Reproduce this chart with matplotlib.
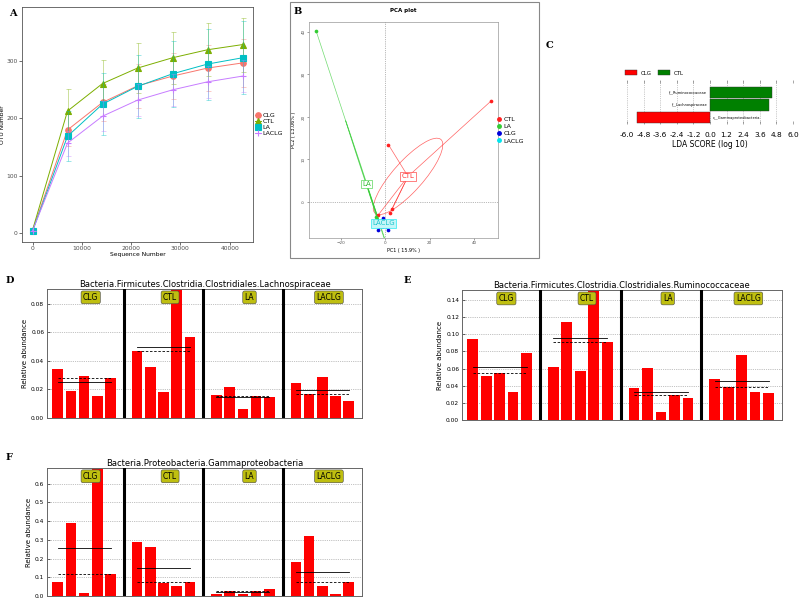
import numpy as np
import matplotlib
matplotlib.use('Agg')
import matplotlib.pyplot as plt
from matplotlib.patches import Ellipse, Rectangle, Patch
from matplotlib.lines import Line2D

W, H = 800, 600

# ---- A: rarefaction curves
seq_depth = [0, 7100, 14200, 21300, 28400, 35500, 42600]
otu_groups = ['CLG', 'CTL', 'LA', 'LACLG']
otu_clg = [4, 180, 228, 257, 274, 288, 297]
otu_ctl = [5, 213, 261, 288, 306, 320, 329]
otu_la = [3, 169, 225, 256, 278, 295, 306]
otu_laclg = [4, 157, 204, 232, 250, 264, 274]
sd_clg = [0, 28, 32, 38, 40, 40, 42]
sd_ctl = [0, 38, 41, 44, 45, 46, 47]
sd_la = [0, 44, 54, 55, 58, 62, 64]
sd_laclg = [0, 22, 26, 28, 28, 28, 28]

# ---- B: PCA scores
pca_groups = ['CTL', 'LA', 'CLG', 'LACLG']
ctl_pc1 = [47.8, 1.5, 3.0, 2.4, -3.0]
ctl_pc2 = [23.8, 13.5, -1.7, -2.5, -3.0]
la_pc1 = [-31.0, -3.9, -2.5, -2.3, -2.0]
la_pc2 = [40.2, -3.5, -5.0, -5.2, -5.4]
clg_pc1 = [-0.9, -3.0, 1.35, -1.5, 0.2]
clg_pc2 = [-3.75, -6.5, -6.6, -5.0, -4.5]
laclg_pc1 = [-2.0, -1.0, 0.0, -1.5, 0.5]
laclg_pc2 = [-4.5, -5.5, -5.0, -5.2, -4.6]

# ---- C: LDA scores
lda_taxa = ['c__Gammaproteobacteria', 'f__Lachnospiraceae', 'f__Ruminococcaceae']
lda_scores = [-5.25, 4.25, 4.5]
lda_class = ['CLG', 'CTL', 'CTL']
lda_ticks = [-6.0, -4.8, -3.6, -2.4, -1.2, 0.0, 1.2, 2.4, 3.6, 4.8, 6.0]

# ---- D/E/F: relative abundance per sample
groups = ['CLG', 'CTL', 'LA', 'LACLG']
lach_clg = [0.0340, 0.0188, 0.0296, 0.0157, 0.0277]
lach_ctl = [0.0469, 0.0359, 0.0181, 0.0903, 0.0565]
lach_la = [0.0164, 0.0220, 0.0066, 0.0152, 0.0150]
lach_laclg = [0.0242, 0.0169, 0.0284, 0.0157, 0.0122]

rumi_clg = [0.0941, 0.0517, 0.0552, 0.0331, 0.0778]
rumi_ctl = [0.0619, 0.1144, 0.0572, 0.1517, 0.0910]
rumi_la = [0.0377, 0.0611, 0.0089, 0.0292, 0.0257]
rumi_laclg = [0.0482, 0.0389, 0.0755, 0.0327, 0.0319]

gamma_clg = [0.077, 0.389, 0.014, 0.684, 0.116]
gamma_ctl = [0.288, 0.261, 0.071, 0.052, 0.073]
gamma_la = [0.009, 0.025, 0.009, 0.025, 0.039]
gamma_laclg = [0.184, 0.322, 0.054, 0.011, 0.073]


def px_axes(fig, left, top, right, bottom):
    return fig.add_axes([left / W, 1 - bottom / H, (right - left) / W, (bottom - top) / H])


def letter(fig, x, y, s):
    fig.text(x / W, 1 - y / H, s, family='DejaVu Serif', weight='bold',
             fontsize=7, ha='left', va='center')


fig = plt.figure(figsize=(8, 6), dpi=100)

# ================= A
axA = px_axes(fig, 22, 7, 253, 242)
otu_vals = [otu_clg, otu_ctl, otu_la, otu_laclg]
otu_sd = [sd_clg, sd_ctl, sd_la, sd_laclg]
otu_colors = ['#F8766D', '#7CAE00', '#00BFC4', '#C77CFF']
otu_markers = ['o', '^', 's', '+']
for name, vals, sd, col, mk in zip(otu_groups, otu_vals, otu_sd, otu_colors, otu_markers):
    axA.errorbar(seq_depth, vals, yerr=sd, fmt='none', ecolor=col, alpha=0.45,
                 elinewidth=0.6, capsize=1.8, capthick=0.6)
    axA.plot(seq_depth, vals, color=col, lw=0.7, marker=mk, ms=4, mew=0.8, label=name)
axA.margins(x=0.05, y=0.05)
axA.set_xticks([0, 10000, 20000, 30000, 40000])
axA.set_yticks([0, 100, 200, 300])
axA.tick_params(labelsize=4.3, length=2, width=0.5, pad=1.2, colors='#333333', labelcolor='#4d4d4d')
for sp in axA.spines.values():
    sp.set_color('#555555')
    sp.set_linewidth(0.6)
axA.set_xlabel('Sequence Number', fontsize=4.3, labelpad=0.5)
axA.set_ylabel('OTU Number', fontsize=4.3, labelpad=0.5)
axA.legend(loc='center left', bbox_to_anchor=(255 / W, 1 - 124 / H), bbox_transform=fig.transFigure,
           frameon=False, fontsize=4.5, handlelength=0.9, handletextpad=0.3,
           labelspacing=0.1, borderpad=0, borderaxespad=0)
letter(fig, 9, 13, 'A')

# ================= B
fig.patches.append(Rectangle((290 / W, 1 - 258 / H), (539 - 290) / W, (258 - 2) / H,
                             transform=fig.transFigure, fill=False, ec='#888888', lw=0.8))
axB = px_axes(fig, 309, 22, 498, 238)
axB.set_xlim(-34.2, 50.8)
axB.set_ylim(-8.45, 42.3)
axB.axhline(0, color='#777777', lw=0.5, ls=':')
axB.axvline(0, color='#777777', lw=0.5, ls=':')
pca_x = [ctl_pc1, la_pc1, clg_pc1, laclg_pc1]
pca_y = [ctl_pc2, la_pc2, clg_pc2, laclg_pc2]
pca_colors = ['#ff2020', '#33cc33', '#0000dd', '#00e5ee']
label_face = ['white', 'white', None, '#c4f6f8']
label_text = ['#ff3030', '#33bb33', None, '#1fc4cc']
ell_k = 0.83
for name, xs, ys, col, fc, tc in zip(pca_groups, pca_x, pca_y, pca_colors, label_face, label_text):
    xs = np.array(xs)
    ys = np.array(ys)
    cx, cy = xs.mean(), ys.mean()
    for px, py in zip(xs, ys):
        axB.plot([cx, px], [cy, py], color=col, lw=0.5, alpha=0.7)
    cov = np.cov(np.vstack([xs, ys]), bias=True)
    evals, evecs = np.linalg.eigh(cov)
    evals = np.clip(evals, 1e-3, None)
    ang = np.degrees(np.arctan2(evecs[1, 1], evecs[0, 1]))
    axB.add_patch(Ellipse((cx, cy), 2 * ell_k * np.sqrt(evals[1]), 2 * ell_k * np.sqrt(evals[0]),
                          angle=ang, fill=False, ec=col, lw=0.5, alpha=0.7))
    axB.scatter(xs, ys, s=7, color=col, zorder=3, lw=0)
    # the CLG label sits under the LACLG one in the original, so it is not drawn
    if fc is not None:
        axB.text(cx, cy, name, fontsize=5, color=tc, ha='center', va='center', zorder=4,
                 bbox=dict(boxstyle='square,pad=0.2', fc=fc, ec=col, lw=0.4))
axB.set_xticks([-20, 0, 20, 40])
axB.set_yticks([0, 10, 20, 30, 40])
axB.tick_params(labelsize=3, length=1.5, width=0.4, pad=1, colors='#555555')
for lab in axB.get_yticklabels():
    lab.set_rotation(90)
    lab.set_va('center')
for sp in axB.spines.values():
    sp.set_color('#999999')
    sp.set_linewidth(0.5)
axB.set_xlabel('PC1 ( 15.9% )', fontsize=3.5, labelpad=2)
axB.set_ylabel('PC2 ( 13.06% )', fontsize=3.5, labelpad=4)
axB.set_title('PCA plot', fontsize=4, weight='bold', pad=7)
axB.legend(handles=[Line2D([], [], ls='none', marker='o', ms=2.5, color=c, label=n)
                    for n, c in zip(pca_groups, pca_colors)],
           loc='center left', bbox_to_anchor=(497 / W, 1 - 130 / H), bbox_transform=fig.transFigure,
           frameon=False, fontsize=4.5, handlelength=0.6, handletextpad=0.4,
           labelspacing=0.3, borderpad=0, borderaxespad=0)
letter(fig, 294, 12, 'B')

# ================= C
axC = px_axes(fig, 627, 80, 793, 124)
lda_colors = {'CLG': '#ff0000', 'CTL': '#008000'}
ypos = np.arange(len(lda_taxa))
axC.barh(ypos, lda_scores, height=0.9, color=[lda_colors[c] for c in lda_class],
         edgecolor='#333333', lw=0.3, zorder=2)
for y, s, t in zip(ypos, lda_scores, lda_taxa):
    if s > 0:
        axC.text(-0.2, y, t, fontsize=2.6, ha='right', va='center', zorder=3)
    else:
        axC.text(0.2, y, t, fontsize=2.6, ha='left', va='center', zorder=3)
axC.set_xlim(-6.0, 6.0)
axC.set_ylim(-0.5, 2.98)
axC.set_xticks(lda_ticks)
axC.set_xticklabels(['%.1f' % t for t in lda_ticks])
axC.set_yticks([])
axC.grid(axis='x', ls=':', color='#999999', lw=0.5, zorder=0)
axC.tick_params(axis='x', labelsize=5.3, direction='in', length=2, width=0.4,
                top=True, pad=6, colors='#666666', labelcolor='black')
for sp in axC.spines.values():
    sp.set_visible(False)
axC.set_xlabel('LDA SCORE (log 10)', fontsize=5.5, labelpad=1)
axC.legend(handles=[Patch(fc=lda_colors[k], ec='#333333', lw=0.3, label=k) for k in ['CLG', 'CTL']],
           loc='center left', bbox_to_anchor=(625 / W, 1 - 73 / H), bbox_transform=fig.transFigure,
           ncol=2, frameon=False, fontsize=4, handlelength=2.2, handleheight=0.9,
           handletextpad=0.6, columnspacing=1.2, borderpad=0, borderaxespad=0)
letter(fig, 546, 45, 'C')


# ================= D, E, F
def abundance_panel(rect, title, group_values, yticks, fmt):
    ax = px_axes(fig, *rect)
    for g, vals in enumerate(group_values):
        pos = np.arange(len(vals)) + g * (len(vals) + 1)
        ax.bar(pos, vals, width=0.8, color='#ff0000', edgecolor='none', zorder=2)
        ax.plot([pos[0], pos[-1]], [np.mean(vals)] * 2, color='black', lw=0.6, zorder=3)
        ax.plot([pos[0], pos[-1]], [np.median(vals)] * 2, color='black', lw=0.6,
                dashes=(3, 2), zorder=3)
        if g < len(group_values) - 1:
            ax.axvline(pos[-1] + 1, color='black', lw=2.2, zorder=4)
        ax.text(pos[0] + 2.5, 0.935, groups[g], transform=ax.get_xaxis_transform(),
                fontsize=5.5, ha='center', va='center', zorder=5,
                bbox=dict(boxstyle='round,pad=0.25', fc='#bfbf10', ec='#444444', lw=0.4))
    ax.set_xlim(-0.8, 23.0)
    ax.set_ylim(0, max(max(v) for v in group_values))
    ax.set_xticks([])
    ax.set_yticks(yticks)
    ax.set_yticklabels([fmt % t for t in yticks])
    ax.grid(axis='y', ls=':', color='#888888', lw=0.5, zorder=0)
    ax.tick_params(axis='y', labelsize=4.2, length=2, width=0.4, direction='in', pad=2)
    for sp in ax.spines.values():
        sp.set_color('#666666')
        sp.set_linewidth(0.7)
    ax.set_ylabel('Relative abundance', fontsize=5, labelpad=2)
    ax.set_title(title, fontsize=6, pad=1.5)
    return ax


abundance_panel((47, 289, 362, 418), 'Bacteria.Firmicutes.Clostridia.Clostridiales.Lachnospiraceae',
                [lach_clg, lach_ctl, lach_la, lach_laclg], [0.0, 0.02, 0.04, 0.06, 0.08], '%.2f')
letter(fig, 6, 281, 'D')

abundance_panel((462, 290, 782, 420), 'Bacteria.Firmicutes.Clostridia.Clostridiales.Ruminococcaceae',
                [rumi_clg, rumi_ctl, rumi_la, rumi_laclg],
                [0.0, 0.02, 0.04, 0.06, 0.08, 0.10, 0.12, 0.14], '%.2f')
letter(fig, 404, 281, 'E')

abundance_panel((47, 468, 362, 596), 'Bacteria.Proteobacteria.Gammaproteobacteria',
                [gamma_clg, gamma_ctl, gamma_la, gamma_laclg],
                [0.0, 0.1, 0.2, 0.3, 0.4, 0.5, 0.6], '%.1f')
letter(fig, 6, 457, 'F')

fig.savefig('out.png', dpi=100)
